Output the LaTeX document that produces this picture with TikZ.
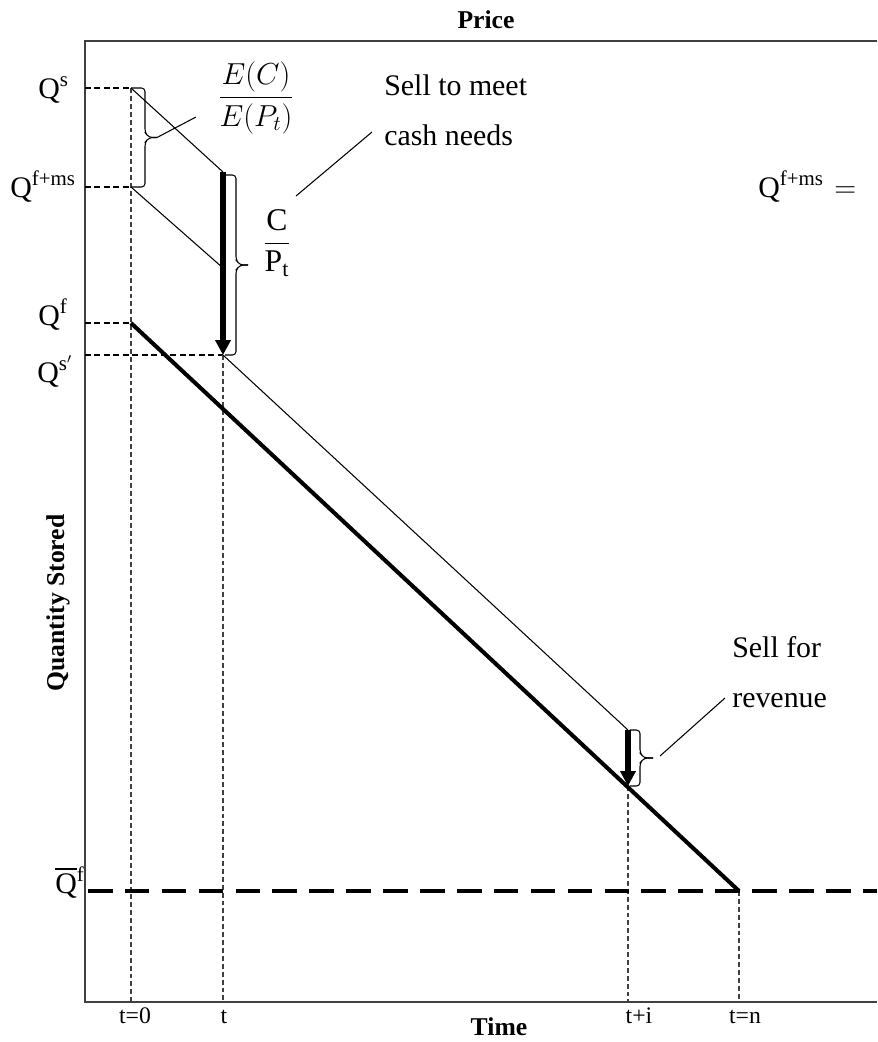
\documentclass[tikz,border=0pt]{standalone}
\usepackage{amsmath}
\usepackage{fontspec}
\setmainfont{Liberation Serif}
\usetikzlibrary{arrows.meta}

% quantity label with superscript
\newcommand{\qlab}[1]{Q\textsuperscript{#1}}
% right brace: x, top, bottom, hook, tip
\newcommand{\vbrace}[5]{%
  \draw[br] (#1,#2) -- ({#1+#4},#2) -- ({#1+#4},{(#2+#3)/2-5})
    -- ({#1+#4+4},{(#2+#3)/2}) -- ({#1+#5},{(#2+#3)/2});
  \draw[br] ({#1+#5},{(#2+#3)/2}) -- ({#1+#4+4},{(#2+#3)/2})
    -- ({#1+#4},{(#2+#3)/2+5}) -- ({#1+#4},#3) -- (#1,#3);}

\begin{document}
\begin{tikzpicture}[
    x=0.02cm, y=-0.02cm,
    every node/.style={inner sep=0pt},
    ql/.style={font=\fontsize{17}{20}\selectfont, anchor=base west},
    ax/.style={font=\fontsize{14.6}{17}\selectfont\bfseries},
    tk/.style={font=\fontsize{13.5}{15}\selectfont, anchor=base},
    note/.style={font=\fontsize{17}{28.4}\selectfont, align=left, anchor=base west},
    frame/.style={line width=0.8pt, black!75},
    guide/.style={dash pattern=on 3.4pt off 2pt, line width=0.6pt},
    drop/.style={dash pattern=on 2.8pt off 1.7pt, line width=0.6pt, black!75},
    stock/.style={line width=2.3pt},
    floor/.style={line width=2.3pt, dash pattern=on 14pt off 7pt},
    path/.style={line width=0.6pt},
    sell/.style={line width=3.2pt, -{Triangle[length=8.5pt,width=8.5pt]}},
    br/.style={line width=0.6pt, rounded corners=2pt},
  ]
  \useasboundingbox (0,0) rectangle (877,1042);

  % key points
  \coordinate (tl) at (85,41);
  \coordinate (o) at (85,1002);
  \coordinate (qs) at (131,88);
  \coordinate (qfms) at (131,187);
  \coordinate (qf) at (131,323);
  \coordinate (sa) at (223,172);
  \coordinate (sb) at (223,355);
  \coordinate (ms) at (223,268);
  \coordinate (ra) at (628,730);
  \coordinate (rb) at (628,786);
  \coordinate (qn) at (739,891);

  % frame
  \draw[frame] (877,41) -- (tl) -- (o) -- (877,1002);

  % guides to the quantity axis
  \draw[guide] (85,88) -- (qs);
  \draw[guide] (85,187) -- (qfms);
  \draw[guide] (85,323) -- (qf);
  \draw[guide] (85,355) -- (sb);

  % drops to the time axis
  \draw[drop] (qs) -- (131,1002);
  \draw[drop] (sb) -- (223,1002);
  \draw[drop] (rb) -- (628,1002);
  \draw[drop] (qn) -- (739,1002);

  % floor and stock path
  \draw[floor] (88,891) -- (877,891);
  \draw[stock] (qf) -- (qn);
  \draw[path] (qs) -- (sa);
  \draw[path] (qfms) -- (ms);
  \draw[path] (sb) -- (ra);

  % sales
  \draw[sell] (sa) -- (sb);
  \draw[sell, line width=3pt] (ra) -- (rb);

  % braces
  \vbrace{131}{88}{187}{14}{26}
  \vbrace{225}{175}{355}{11}{23}
  \vbrace{630}{730}{786}{10}{23}
  \coordinate (b1) at (157,137.5);
  \coordinate (b3) at (660,756);

  % labels
  \node[ax] (price) at (486,20) {Price};
  \node[ax] (time) at (499,1027) {Time};
  \node[ax, rotate=90] (qty) at (58,603) {Quantity Stored};

  \node[ql] (lqs) at (38,98) {\qlab{s}};
  \node[ql] (lqfms) at (10,197) {\qlab{f+ms}};
  \node[ql] (lqf) at (38,325) {\qlab{f}};
  \node[ql] (lqs2) at (37,382) {\qlab{s$'$}};
  \node[ql] (lqbar) at (55,893) {$\overline{\text{Q}}$\textsuperscript{f}};
  \node[ql] (eq) at (758,197) {\qlab{f+ms}\hspace{0.35em}$=$};

  \node[tk] (t0) at (135,1023) {t=0};
  \node[tk] (t1) at (224,1023) {t};
  \node[tk] (ti) at (639,1023) {t+i};
  \node[tk] (tn) at (745,1023) {t=n};

  \node[font=\fontsize{16.5}{20}\selectfont] (ecp) at (256,98) {$\dfrac{E(C)}{E(P_t)}$};
  \node[font=\fontsize{18}{20}\selectfont] (cp) at (277,243) {$\dfrac{\text{C}}{\text{P}_{\text{t}}}$};

  \node[note] (cash) at (384,145) {Sell to meet\\cash needs};
  \node[note] (rev) at (732,707) {Sell for\\revenue};

  % leaders
  \coordinate (l1) at (196,117);
  \coordinate (l2a) at (296,196);
  \coordinate (l2b) at (372,132);
  \coordinate (l3) at (725,698);
  \draw[path] (b1) -- (l1);
  \draw[path] (l2a) -- (l2b);
  \draw[path] (b3) -- (l3);
\end{tikzpicture}
\end{document}
